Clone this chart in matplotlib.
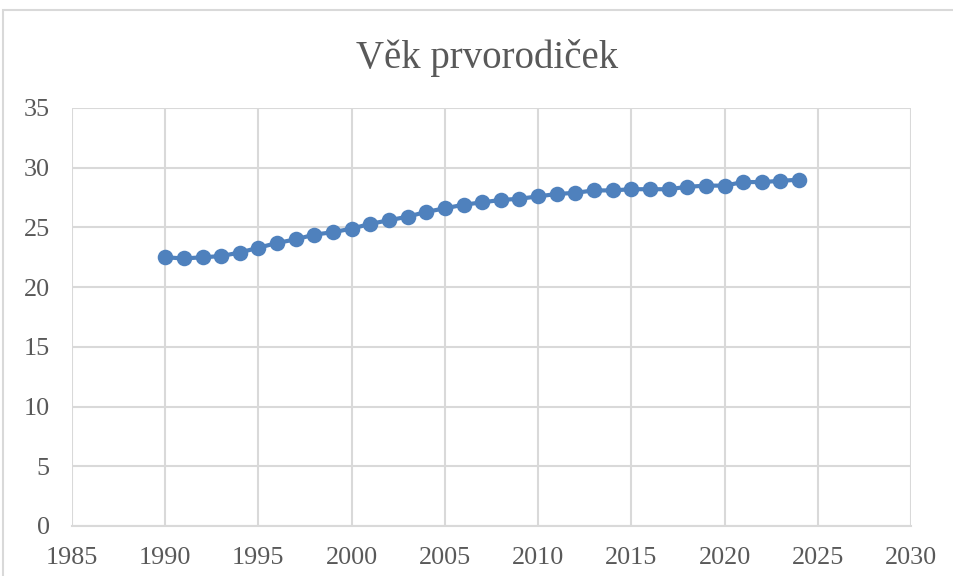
import matplotlib
matplotlib.use("Agg")
import matplotlib.pyplot as plt
from matplotlib.patches import Rectangle

years = list(range(1990, 2025))
ages = [22.5, 22.4, 22.5, 22.6, 22.9, 23.3, 23.7, 24.0, 24.4, 24.6,
        24.9, 25.3, 25.6, 25.9, 26.3, 26.6, 26.9, 27.1, 27.3, 27.4,
        27.6, 27.8, 27.9, 28.1, 28.1, 28.2, 28.2, 28.2, 28.4, 28.5,
        28.5, 28.8, 28.8, 28.9, 29.0]
title = "Věk prvorodiček"
x_ticks = [1985, 1990, 1995, 2000, 2005, 2010, 2015, 2020, 2025, 2030]
y_ticks = [0, 5, 10, 15, 20, 25, 30, 35]

W, H = 954, 576
fig = plt.figure(figsize=(W / 100, H / 100), dpi=100)
text_color = "#595959"
grid_color = "#d9d9d9"
font = "Liberation Serif"

# chart area border (cropped on right/bottom)
fig.patches.append(Rectangle((3 / W, -0.1), 1.2, (H - 10) / H + 0.1,
                             transform=fig.transFigure, fill=False,
                             edgecolor=grid_color, linewidth=1.5))

ax = fig.add_axes([72 / W, (H - 526) / H, (911 - 72) / W, (526 - 108) / H])
ax.plot(years, ages, color="#4f81bd", linewidth=3.0, marker="o",
        markersize=11.2, markeredgewidth=0, zorder=3, clip_on=False)

ax.set_xlim(1985, 2030)
ax.set_ylim(0, 35)
ax.set_xticks(x_ticks)
ax.set_yticks(y_ticks)
ax.set_xticklabels([str(v) for v in x_ticks])
ax.set_yticklabels([str(v) for v in y_ticks])
ax.grid(True, color=grid_color, linewidth=1.5, zorder=0)
ax.set_axisbelow(True)
for s in ["top", "right", "left"]:
    ax.spines[s].set_visible(False)
ax.spines["bottom"].set_color(grid_color)
ax.spines["bottom"].set_linewidth(1.5)
ax.tick_params(axis="both", length=0, labelsize=18.8, labelcolor=text_color)
ax.tick_params(axis="x", pad=15)
ax.tick_params(axis="y", pad=16)
for lbl in ax.get_xticklabels() + ax.get_yticklabels():
    lbl.set_fontfamily(font)

fig.text(487.5 / W, (H - 68) / H, title, ha="center", va="baseline",
         fontsize=28, color=text_color, fontfamily=font)

fig.savefig("out.png", dpi=100)
